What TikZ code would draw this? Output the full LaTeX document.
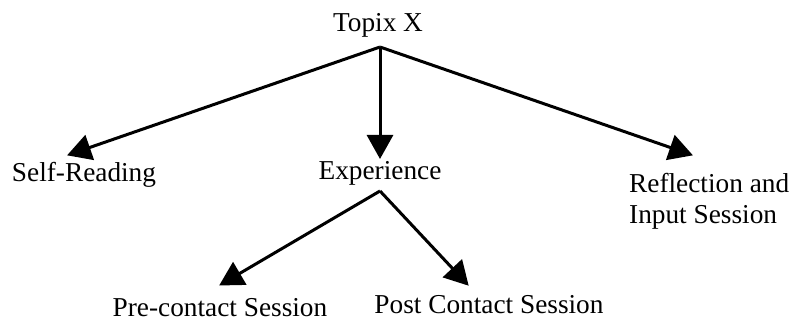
\documentclass[tikz,border=0pt]{standalone}
\usepackage{fontspec}
\setmainfont{Liberation Serif}
\usetikzlibrary{arrows.meta}
\begin{document}
\begin{tikzpicture}[x=1pt,y=-1pt,
  lbl/.style={inner sep=0pt, anchor=base, font=\fontsize{27.3}{31}\selectfont},
  arr/.style={line width=3pt, -{Triangle[length=24pt,width=26pt]}, shorten >=-1pt},
  ln/.style={line width=3pt}]
\useasboundingbox (0,0) rectangle (795,323);
\node[lbl] (topix) at (378,32) {Topix X};
\node[lbl] (self) at (84,182) {Self-Reading};
\node[lbl] (exp) at (380,180) {Experience};
\node[lbl, anchor=base west, align=left] (refl) at (629,223) {Reflection and\\Input Session};
\node[lbl] (pre) at (220,316) {Pre-contact Session};
\node[lbl] (post) at (489,313) {Post Contact Session};
\coordinate (apexA) at (380,47);
\coordinate (apexB) at (380,191);
\coordinate (tipSelf) at (68,155);
\coordinate (tipExp) at (380,158);
\coordinate (tipRefl) at (692,155);
\coordinate (tipPre) at (220,285);
\coordinate (tipPost) at (468,285);
\draw[arr] (apexA) -- (tipSelf);
\draw[arr] (apexA) -- (tipExp);
\draw[arr] (apexA) -- (tipRefl);
\draw[arr] (apexB) -- (tipPre);
\draw[arr] (apexB) -- (tipPost);
\end{tikzpicture}
\end{document}
